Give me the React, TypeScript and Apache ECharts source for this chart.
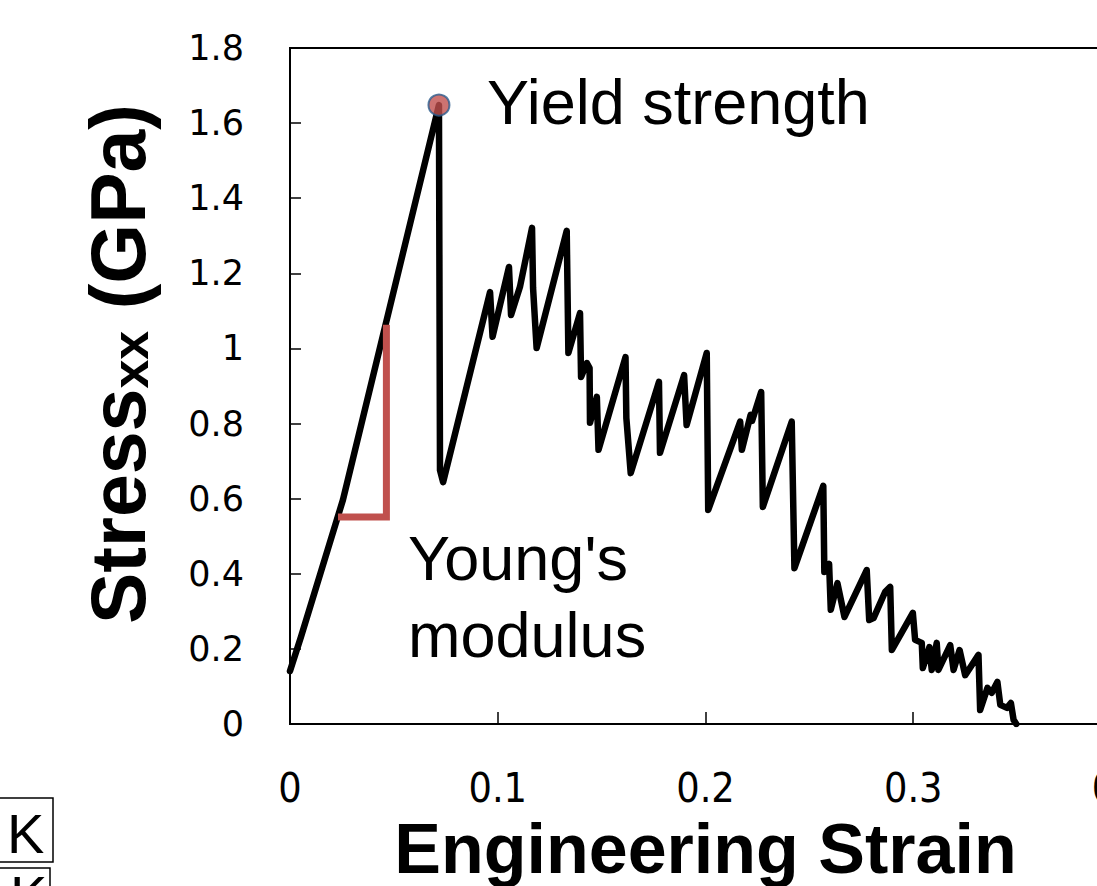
import React, { useEffect, useRef } from "react";
import * as echarts from "echarts";

// Engineering strain (x) and stress in GPa (y) of the simulated tensile curve
const strain = [
  0.0, 0.0053, 0.0255, 0.0717, 0.0722, 0.0737,
  0.0963, 0.0975, 0.1054, 0.1064, 0.1107, 0.1165, 0.117, 0.1187,
  0.1332, 0.134, 0.1396, 0.1401, 0.1429, 0.1442, 0.1444, 0.1477, 0.1485,
  0.1615, 0.1619, 0.164, 0.1776, 0.1781, 0.1897, 0.1909, 0.2006, 0.2013,
  0.2167, 0.2175, 0.2217, 0.2224, 0.2268, 0.2276, 0.2415, 0.2428,
  0.2567, 0.2572, 0.2576, 0.2595, 0.2603, 0.2635, 0.2669, 0.2776, 0.2788,
  0.2809, 0.2865, 0.2889, 0.2897, 0.2998, 0.3009, 0.3041, 0.3046, 0.3078,
  0.3089, 0.3113, 0.3121, 0.3178, 0.3194, 0.3223, 0.325, 0.3314, 0.3322,
  0.3357, 0.3378, 0.3405, 0.3419, 0.3451, 0.347, 0.3483, 0.3496,
];
const stress = [
  0.141, 0.232, 0.597, 1.648, 0.676, 0.644,
  1.15, 1.031, 1.217, 1.089, 1.164, 1.321, 1.161, 1.001,
  1.313, 0.988, 1.094, 0.924, 0.961, 0.948, 0.802, 0.871, 0.73,
  0.977, 0.815, 0.668, 0.911, 0.722, 0.929, 0.796, 0.988, 0.57,
  0.805, 0.73, 0.823, 0.807, 0.884, 0.578, 0.805, 0.415,
  0.634, 0.405, 0.41, 0.426, 0.304, 0.375, 0.285, 0.41, 0.277,
  0.282, 0.352, 0.365, 0.197, 0.296, 0.224, 0.216, 0.149, 0.205,
  0.144, 0.216, 0.144, 0.21, 0.144, 0.197, 0.13, 0.184, 0.037,
  0.096, 0.083, 0.112, 0.051, 0.043, 0.056, 0.011, 0.0,
];

// Yield strength marker
const yieldStrain = [0.0717];
const yieldStress = [1.648];

// Young's modulus slope bracket
const modulusStrain = [0.0231, 0.0464, 0.0464];
const modulusStress = [0.551, 0.551, 1.063];

// Axis ranges
const xMin = 0;
const xMax = 0.4;
const xStep = 0.1;
const yMin = 0;
const yMax = 1.8;
const yStep = 0.2;

const yieldLabel = "Yield strength";
const modulusLabel = "Young's\nmodulus";
const xTitle = "Engineering Strain";

const ARIAL = "'Liberation Sans', Arial, sans-serif";

const fmt = (v: number) => String(+v.toFixed(1));

export default function App() {
  const ref = useRef<HTMLDivElement>(null);

  useEffect(() => {
    if (!ref.current) return;
    const chart = echarts.init(ref.current, undefined, { renderer: "svg" });

    const curve = strain.map((x, i) => [x, stress[i]]);
    const bracket = modulusStrain.map((x, i) => [x, modulusStress[i]]);
    const yieldPts = yieldStrain.map((x, i) => [x, yieldStress[i]]);

    chart.setOption({
      animation: false,
      backgroundColor: "#ffffff",
      grid: {
        left: 290,
        top: 48,
        width: 831,
        height: 676,
        outerBoundsMode: "none",
        containLabel: false,
        show: true,
        borderColor: "#000",
        borderWidth: 2,
        backgroundColor: "transparent",
      },
      xAxis: {
        type: "value",
        min: xMin,
        max: xMax,
        interval: xStep,
        splitLine: { show: false },
        axisLine: { show: true, lineStyle: { color: "#000", width: 2 } },
        axisTick: { show: true, inside: true, length: 12, lineStyle: { color: "#000", width: 1.5 } },
        axisLabel: {
          formatter: fmt,
          color: "#000",
          fontFamily: "'DejaVu Sans Condensed', 'DejaVu Sans', sans-serif",
          fontSize: 41,
          margin: 43,
          showMaxLabel: true,
        },
        name: xTitle,
        nameLocation: "middle",
        nameGap: 90,
        nameTextStyle: {
          color: "#000",
          fontFamily: ARIAL,
          fontWeight: "bold",
          fontSize: 70,
          lineHeight: 70,
        },
      },
      yAxis: {
        type: "value",
        min: yMin,
        max: yMax,
        interval: yStep,
        splitLine: { show: false },
        axisLine: { show: true, lineStyle: { color: "#000", width: 2 } },
        axisTick: { show: true, inside: true, length: 11, lineStyle: { color: "#000", width: 1.5 } },
        axisLabel: {
          formatter: fmt,
          color: "#000",
          fontFamily: "'DejaVu Sans', sans-serif",
          fontSize: 35,
          margin: 46,
        },
        name: "{m|Stress}{s|xx}{m| (GPa)}",
        nameLocation: "middle",
        nameGap: 134,
        nameRotate: 90,
        nameTextStyle: {
          padding: [0, 0, 0, 44],
          rich: {
            m: {
              color: "#000",
              fontFamily: ARIAL,
              fontWeight: "bold",
              fontSize: 77,
              lineHeight: 77,
              verticalAlign: "bottom",
            },
            s: {
              color: "#000",
              fontFamily: ARIAL,
              fontWeight: "bold",
              fontSize: 52,
              lineHeight: 77,
              verticalAlign: "bottom",
            },
          },
        },
      },
      series: [
        {
          type: "line",
          data: curve,
          showSymbol: false,
          symbol: "none",
          lineStyle: { color: "#000", width: 6.5, join: "round", cap: "round" },
          z: 2,
        },
        {
          type: "line",
          data: bracket,
          showSymbol: false,
          symbol: "none",
          lineStyle: { color: "#C0504D", width: 7, join: "miter", cap: "butt" },
          z: 3,
        },
        {
          type: "scatter",
          data: yieldPts,
          symbol: "circle",
          symbolSize: 21,
          itemStyle: { color: "#C0504D", borderColor: "#2A5B8C", borderWidth: 2 },
          z: 4,
        },
      ],
      graphic: [
        {
          type: "text",
          left: 487,
          top: 101.5 - 31.5,
          style: {
            text: yieldLabel,
            fill: "#000",
            font: `63px ${ARIAL}`,
            lineHeight: 63,
          },
        },
        {
          type: "text",
          left: 408,
          top: 589 - 70,
          style: {
            text: modulusLabel,
            fill: "#000",
            font: `63px ${ARIAL}`,
            lineHeight: 77,
          },
        },
        {
          type: "rect",
          shape: { x: -2, y: 798, width: 55, height: 64 },
          style: { fill: "none", stroke: "#000", lineWidth: 1.5 },
        },
        {
          type: "text",
          left: 7,
          top: 833 - 28,
          style: { text: "K", fill: "#000", font: `56px ${ARIAL}`, lineHeight: 56 },
        },
        {
          type: "rect",
          shape: { x: -2, y: 868, width: 52, height: 40 },
          style: { fill: "none", stroke: "#000", lineWidth: 1.5 },
        },
        {
          type: "text",
          left: 10,
          top: 875 - 8,
          style: { text: "K", fill: "#000", font: `56px ${ARIAL}`, lineHeight: 56 },
        },
      ],
    });

    return () => chart.dispose();
  }, []);

  return (
    <div
      ref={ref}
      style={{ position: "fixed", left: 0, top: 0, width: 1097, height: 886, overflow: "hidden" }}
    />
  );
}
